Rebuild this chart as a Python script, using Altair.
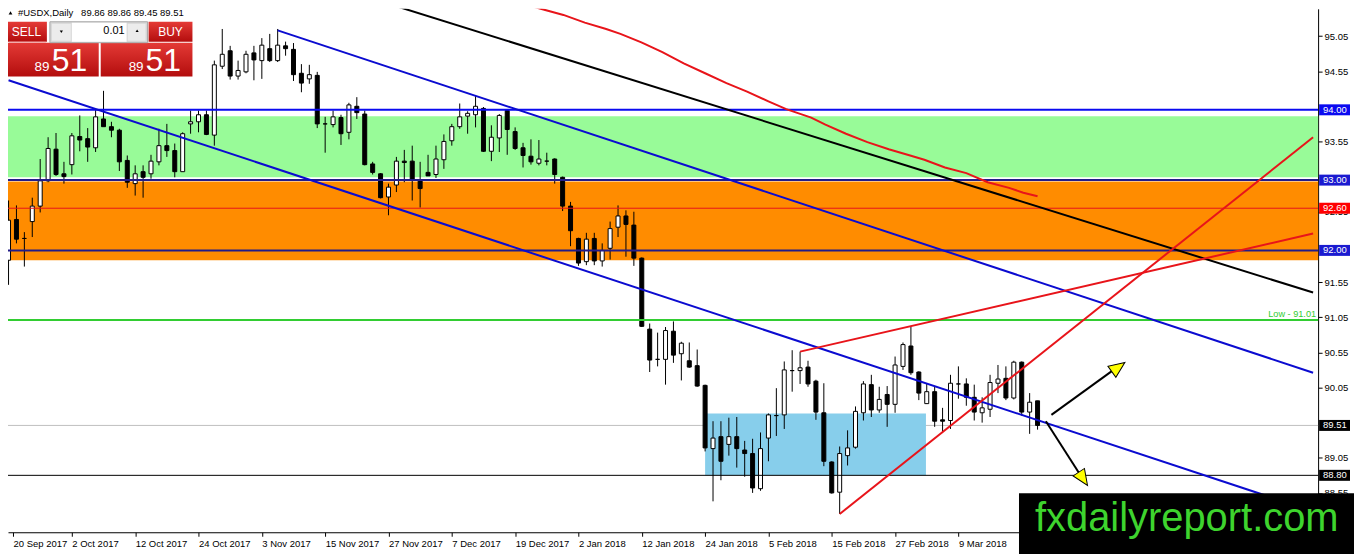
import json
import altair as alt
import pandas as pd

# ---------------- candles: bar 0 = 20 Sep 2017 (daily) ----------------
opens = [91.86, 92.44, 92.17, 92.41, 92.63, 92.99, 93.44, 93.09, 93.22, 93.62,
         93.59, 93.46, 93.87, 93.76, 93.71, 93.28, 92.95, 93.12, 93.09, 93.26,
         93.49, 93.42, 93.12, 93.80, 93.83, 93.93, 93.64, 94.62, 94.84, 94.48,
         94.54, 94.81, 94.70, 94.87, 94.70, 94.91, 94.86, 94.52, 94.44, 94.49,
         93.80, 93.79, 93.89, 93.68, 94.05, 93.94, 93.23, 93.09, 92.76, 92.93,
         93.27, 93.27, 93.00, 93.11, 93.08, 93.29, 93.56, 93.76, 93.91, 93.93,
         94.02, 93.41, 93.60, 93.99, 93.69, 93.46, 93.34, 93.24, 93.27, 93.30,
         93.04, 92.63, 92.17, 91.84, 92.17, 91.85, 92.03, 92.33, 92.49, 92.36,
         91.89, 90.88, 90.45, 90.45, 90.85, 90.53, 90.43, 90.36, 90.08, 89.18,
         89.35, 89.24, 89.35, 89.16, 89.11, 88.61, 89.33, 89.65, 89.66, 90.29,
         90.29, 90.34, 90.14, 89.69, 88.99, 88.56, 89.08, 89.20, 89.69, 90.09,
         89.73, 89.95, 89.81, 90.35, 90.64, 90.27, 89.82, 89.99, 89.59, 89.58,
         90.10, 90.10, 89.91, 89.69, 89.74, 90.11, 90.18, 89.90, 90.41, 89.70,
         89.86]
highs = [92.71, 92.64, 92.26, 92.75, 93.30, 93.61, 93.67, 93.26, 93.67, 93.92,
         93.74, 94.00, 94.27, 93.83, 93.73, 93.35, 93.21, 93.21, 93.36, 93.73,
         93.80, 93.52, 93.68, 93.99, 93.99, 93.99, 94.70, 95.15, 94.91, 94.70,
         94.84, 94.91, 95.02, 95.08, 95.15, 94.97, 94.95, 94.65, 94.64, 94.54,
         93.90, 93.99, 93.93, 94.10, 94.18, 93.99, 93.26, 93.10, 92.95, 93.33,
         93.43, 93.49, 93.26, 93.36, 93.49, 93.65, 93.80, 94.09, 93.98, 94.20,
         94.04, 93.78, 93.94, 94.00, 93.75, 93.53, 93.58, 93.57, 93.39, 93.31,
         93.05, 92.69, 92.18, 92.25, 92.25, 92.10, 92.41, 92.64, 92.57, 92.55,
         91.90, 90.96, 90.83, 90.91, 90.99, 90.70, 90.69, 90.59, 90.09, 89.57,
         89.57, 89.62, 89.63, 89.29, 89.32, 89.41, 89.68, 90.04, 90.42, 90.58,
         90.56, 90.43, 90.16, 90.11, 89.00, 89.21, 89.44, 89.78, 90.14, 90.23,
         90.06, 90.07, 90.49, 90.69, 90.92, 90.28, 90.10, 90.06, 89.76, 90.23,
         90.35, 90.18, 90.09, 89.91, 90.23, 90.37, 90.35, 90.43, 90.42, 89.97,
         89.86]
lows = [91.51, 92.10, 91.77, 92.19, 92.54, 92.97, 93.06, 92.95, 93.08, 93.41,
        93.26, 93.40, 93.83, 93.61, 93.13, 92.89, 92.78, 92.75, 93.02, 93.21,
        93.33, 93.04, 93.12, 93.66, 93.68, 93.64, 93.49, 94.58, 94.43, 94.43,
        94.52, 94.42, 94.44, 94.68, 94.68, 94.77, 94.41, 94.25, 94.37, 93.74,
        93.39, 93.75, 93.50, 93.58, 93.87, 93.21, 93.08, 92.74, 92.50, 92.83,
        92.97, 92.71, 92.61, 93.06, 93.03, 93.16, 93.49, 93.73, 93.66, 93.75,
        93.40, 93.27, 93.40, 93.36, 93.43, 93.18, 93.22, 93.21, 93.21, 92.95,
        92.56, 92.06, 91.78, 91.79, 91.79, 91.77, 91.87, 92.19, 91.91, 91.78,
        90.91, 90.27, 90.35, 90.09, 90.40, 90.15, 90.33, 90.06, 89.14, 88.43,
        88.73, 89.08, 88.91, 88.78, 88.55, 88.58, 89.00, 89.36, 89.46, 89.99,
        90.10, 90.06, 89.59, 88.93, 88.54, 88.25, 88.94, 89.18, 89.58, 89.63,
        89.69, 89.49, 89.69, 90.30, 90.23, 89.87, 89.82, 89.49, 89.41, 89.46,
        89.89, 89.79, 89.58, 89.55, 89.63, 89.97, 89.87, 89.88, 89.65, 89.39,
        89.45]
closes = [92.43, 92.16, 92.17, 92.63, 92.99, 93.45, 93.08, 93.05, 93.63, 93.57,
          93.47, 93.90, 93.76, 93.71, 93.26, 92.97, 93.09, 93.04, 93.27, 93.49,
          93.42, 93.12, 93.66, 93.83, 93.93, 93.65, 94.64, 94.79, 94.48, 94.56,
          94.79, 94.71, 94.92, 94.70, 94.92, 94.87, 94.50, 94.38, 94.50, 93.80,
          93.80, 93.90, 93.66, 94.07, 93.96, 93.22, 93.11, 92.75, 92.90, 93.27,
          93.25, 93.01, 92.88, 93.06, 93.30, 93.55, 93.76, 93.90, 93.95, 94.05,
          93.41, 93.61, 93.92, 93.72, 93.45, 93.35, 93.26, 93.30, 93.27, 93.08,
          92.63, 92.28, 91.82, 92.16, 91.85, 92.00, 92.31, 92.49, 92.37, 91.89,
          90.92, 90.44, 90.45, 90.86, 90.51, 90.68, 90.34, 90.07, 89.19, 89.33,
          89.00, 89.35, 89.18, 89.11, 88.62, 89.18, 89.66, 89.65, 90.30, 90.29,
          90.33, 90.10, 89.70, 89.00, 88.55, 89.11, 89.19, 89.71, 90.10, 89.73,
          89.88, 89.81, 90.37, 90.66, 90.26, 89.97, 89.99, 89.57, 89.57, 90.11,
          90.10, 89.91, 89.70, 89.76, 90.12, 90.17, 89.90, 90.41, 89.70, 89.84,
          89.51]

date_labels = ["20 Sep 2017", "2 Oct 2017", "12 Oct 2017", "24 Oct 2017", "3 Nov 2017",
               "15 Nov 2017", "27 Nov 2017", "7 Dec 2017", "19 Dec 2017", "2 Jan 2018",
               "12 Jan 2018", "24 Jan 2018", "5 Feb 2018", "15 Feb 2018", "27 Feb 2018",
               "9 Mar 2018"]
price_ticks = [95.05, 94.55, 93.55, 92.55, 91.55, 91.05, 90.55, 90.05, 89.05, 88.55]

# moving average (red curve)
ma_bar = [65.0, 67.45, 70.1, 72.8, 75.5, 77.3, 79.95, 82.6, 85.3, 88.0, 90.7, 93.3, 96.0, 98.25,
          101.4, 103.2, 105.8, 108.5, 111.2, 113.9, 115.7, 118.3, 121.0, 123.7, 126.4, 128.2, 130.0]
ma_val = [95.51, 95.43, 95.35, 95.24, 95.15, 95.08, 94.96, 94.82, 94.66, 94.52, 94.38, 94.26, 94.12,
          94.01, 93.89, 93.79, 93.66, 93.54, 93.44, 93.35, 93.29, 93.18, 93.10, 92.97, 92.89, 92.82, 92.77]

# zones
zone_top = [93.91, 92.98]
zone_bot = [93.04, 91.86]
zone_color = ["#98fb98", "#ff8c00"]
box_bar0, box_bar1, box_top, box_bot = [88.0], [115.9], [89.68], [88.80]

# horizontal lines
hl_price = [94.00, 93.00, 92.00, 92.60, 91.01, 88.80]
hl_color = ["#0a0af0", "#221c88", "#221c88", "#e8141a", "#32cd32", "#000000"]
hl_width = [2, 2, 2, 1, 2, 1]
bid_price = [89.51]

# trend lines
tl_id = ["ch_hi", "ch_hi", "ch_lo", "ch_lo", "blk", "blk", "r1", "r1", "r2", "r2"]
tl_bar = [34, 164.81, 0, 164.81, 40, 164.81, 105, 164.81, 100, 164.81]
tl_price = [95.13, 90.26, 94.42, 88.29, 95.79, 91.40, 88.25, 93.61, 90.56, 92.24]
tl_color = ["#0b0bd0", "#0b0bd0", "#0b0bd0", "#0b0bd0", "#000000", "#000000",
            "#e8141a", "#e8141a", "#e8141a", "#e8141a"]

# arrows
ar_id = ["up", "up", "dn", "dn"]
ar_bar = [131.75, 139.6, 131.05, 135.2]
ar_price = [89.66, 90.30, 89.57, 88.84]
ah_bar = [140.21, 135.76]
ah_price = [90.34, 88.75]
ah_angle = [324.3, 56.7]

# right-axis price tags
tag_value = [94.00, 93.00, 92.60, 92.00, 89.51, 88.80]
tag_text = ["94.00", "93.00", "92.60", "92.00", "89.51", "88.80"]
tag_color = ["#0a0af0", "#1a1ad0", "#ff0000", "#1a1ad0", "#000000", "#000000"]

# ---------------- layout ----------------
W, H = 1314, 525
OFF = 8
X0, X1 = 0.5625, 0.5625 + W / 8.0
Y1 = 95.437
Y0 = Y1 - H / 70.5
FONT = "Liberation Sans"
ARROW_HEAD = "M1,0L-1,-0.85L-1,0.85Z"

xs = alt.Scale(domain=[X0, X1], nice=False, zero=False)
ys = alt.Scale(domain=[Y0, Y1], nice=False, zero=False)
date_ticks = [X0] + [8 * k for k in range(1, len(date_labels))]
xax = alt.Axis(values=date_ticks, labelExpr=json.dumps(date_labels) + "[round(datum.value / 8)]",
               labelAlign="left", labelBaseline="top", labelPadding=2, labelFont=FONT,
               labelFontSize=9.5, labelColor="black", tickColor="black", tickSize=4,
               domainColor="black", grid=False, labelOverlap=False, labelFlush=False)
yax = alt.Axis(orient="right", values=price_ticks, format=".2f", labelFont=FONT, labelFontSize=9.5,
               labelColor="black", labelPadding=2, tickColor="black", tickSize=4,
               domainColor="black", grid=False, labelOverlap=False, labelFlush=False)


def X(f):
    return alt.X(f + ":Q", scale=xs, axis=xax, title=None)


def Y(f):
    return alt.Y(f + ":Q", scale=ys, axis=yax, title=None)


layers = []

zones = pd.DataFrame({"top": zone_top, "bot": zone_bot, "c": zone_color})
layers.append(alt.Chart(zones).mark_rect().encode(
    x=alt.value(0), x2=alt.value(W), y=Y("top"), y2=alt.Y2("bot"),
    color=alt.Color("c:N", scale=None)))

bid = pd.DataFrame({"p": bid_price})
layers.append(alt.Chart(bid).mark_rule(color="#c0c0c0", strokeWidth=1).encode(
    x=alt.value(0), x2=alt.value(W), y=Y("p")))

box = pd.DataFrame({"b0": box_bar0, "b1": box_bar1, "top": box_top, "bot": box_bot})
layers.append(alt.Chart(box).mark_rect(color="#87ceeb").encode(
    x=X("b0"), x2=alt.X2("b1"), y=Y("top"), y2=alt.Y2("bot")))

cdf = pd.DataFrame({"bar": list(range(len(opens))), "open": opens, "high": highs,
                    "low": lows, "close": closes})
cdf["fc"] = ["#ffffff" if c >= o else "#000000" for o, c in zip(opens, closes)]
layers.append(alt.Chart(cdf).mark_rule(color="black", strokeWidth=1, clip=True).encode(
    x=X("bar"), y=Y("low"), y2=alt.Y2("high")))
layers.append(alt.Chart(cdf).mark_bar(size=4, stroke="black", strokeWidth=1, clip=True).encode(
    x=X("bar"), y=Y("open"), y2=alt.Y2("close"), fill=alt.Fill("fc:N", scale=None)))

hl = pd.DataFrame({"p": hl_price, "c": hl_color, "w": hl_width})
layers.append(alt.Chart(hl).mark_rule().encode(
    x=alt.value(0), x2=alt.value(W), y=Y("p"),
    color=alt.Color("c:N", scale=None), strokeWidth=alt.StrokeWidth("w:Q", scale=None)))

tl = pd.DataFrame({"id": tl_id, "bar": tl_bar, "p": tl_price, "c": tl_color,
                   "ord": list(range(len(tl_id)))})
layers.append(alt.Chart(tl).mark_line(strokeWidth=2, clip=True).encode(
    x=X("bar"), y=Y("p"), detail="id:N", order=alt.Order("ord:Q"),
    color=alt.Color("c:N", scale=None)))

ma = pd.DataFrame({"bar": ma_bar, "p": ma_val})
layers.append(alt.Chart(ma).mark_line(color="#e8141a", strokeWidth=2, clip=True).encode(
    x=X("bar"), y=Y("p")))

ar = pd.DataFrame({"id": ar_id, "bar": ar_bar, "p": ar_price, "ord": list(range(len(ar_id)))})
layers.append(alt.Chart(ar).mark_line(color="black", strokeWidth=2).encode(
    x=X("bar"), y=Y("p"), detail="id:N", order=alt.Order("ord:Q")))
ah = pd.DataFrame({"bar": ah_bar, "p": ah_price, "a": ah_angle})
layers.append(alt.Chart(ah).mark_point(shape=ARROW_HEAD, filled=True, fill="#ffff00",
                                       stroke="black", strokeWidth=1, size=256, opacity=1).encode(
    x=X("bar"), y=Y("p"), angle=alt.Angle("a:Q", scale=None)))

# low label
low = pd.DataFrame({"p": [91.01], "t": ["Low - 91.01"]})
layers.append(alt.Chart(low).mark_text(align="right", baseline="alphabetic", dy=-3, font=FONT,
                                       fontSize=9.2, color="#32cd32").encode(
    x=alt.value(W - 2), y=Y("p"), text="t:N"))

# price tags on the right axis
tags = pd.DataFrame({"v": tag_value, "t": tag_text, "c": tag_color})
layers.append(alt.Chart(tags).transform_calculate(
    top="datum.v + 0.078", bot="datum.v - 0.078").mark_rect().encode(
    x=alt.value(W + 1), x2=alt.value(W + 32), y=Y("top"), y2=alt.Y2("bot"),
    color=alt.Color("c:N", scale=None)))
layers.append(alt.Chart(tags).mark_text(align="left", baseline="middle", font=FONT, fontSize=9.5,
                                        color="white").encode(
    x=alt.value(W + 5), y=Y("v"), text="t:N"))

# ---------------- trading panel / header (page-pixel layout) ----------------
ONE = alt.InlineData(values=[{"k": 1}])
RED = {"gradient": "linear", "x1": 0, "y1": 0, "x2": 0, "y2": 1,
       "stops": [{"offset": 0, "color": "#e43a36"}, {"offset": 1, "color": "#b30d0d"}]}


def prect(x0, y0, x1, y1, **kw):
    return alt.Chart(ONE).mark_rect(**kw).encode(
        x=alt.value(x0 - OFF), x2=alt.value(x1 - OFF), y=alt.value(y0 - OFF), y2=alt.value(y1 - OFF))


def ptext(x, y, s, **kw):
    return alt.Chart(ONE).mark_text(text=s, font=FONT, **kw).encode(
        x=alt.value(x - OFF), y=alt.value(y - OFF))


def psym(x, y, shape, size):
    return alt.Chart(ONE).mark_point(shape=shape, filled=True, fill="black", size=size,
                                     opacity=1).encode(x=alt.value(x - OFF), y=alt.value(y - OFF))


layers += [
    prect(6, 21, 47, 41, fill=RED),
    prect(6, 42, 99, 76, fill=RED),
    prect(9, 41, 46, 42, fill="#f2a0a0"),
    prect(149, 21, 193, 41, fill=RED),
    prect(101, 42, 193, 76, fill=RED),
    prect(50, 21, 148, 42, fill="#d6d6d6", stroke="#a8a8a8", strokeWidth=1),
    prect(52, 23, 71, 40, fill="#ececec"),
    prect(72, 22, 127, 41, fill="#ffffff"),
    prect(128, 23, 146, 40, fill="#ececec"),
    psym(61.5, 31, "triangle-down", 10),
    psym(137.5, 30, "triangle-up", 10),
    ptext(125, 30.5, "0.01", align="right", baseline="middle", fontSize=11, color="black"),
    ptext(26.5, 31.5, "SELL", align="center", baseline="middle", fontSize=12, color="white"),
    ptext(171, 31.5, "BUY", align="center", baseline="middle", fontSize=12, color="white"),
    ptext(34.5, 70, "89", align="left", baseline="alphabetic", fontSize=13.5, color="white"),
    ptext(52, 70.5, "51", align="left", baseline="alphabetic", fontSize=32, color="white"),
    ptext(129, 70, "89", align="left", baseline="alphabetic", fontSize=13.5, color="white"),
    ptext(146, 70.5, "51", align="left", baseline="alphabetic", fontSize=32, color="white"),
    psym(10.5, 12, "triangle-up", 14),
    ptext(18, 12.5, "#USDX,Daily\u00a0\u00a0\u00a089.86 89.86 89.45 89.51", align="left",
          baseline="middle", fontSize=9.5, color="black"),
    # watermark
    prect(1022, 494, 1362, 560, fill="#000000"),
    ptext(1038, 532, "fxdailyreport.com", align="left", baseline="alphabetic", fontSize=40,
          color="#3ed42e"),
]

chart = alt.layer(*layers).properties(
    width=W, height=H,
    autosize=alt.AutoSizeParams(type="none"),
    padding={"left": 0, "top": 0, "right": 36, "bottom": 21},
    background="white",
).configure_view(strokeWidth=0)

chart.save("out.html", embed_options={"renderer": "svg", "actions": False})
